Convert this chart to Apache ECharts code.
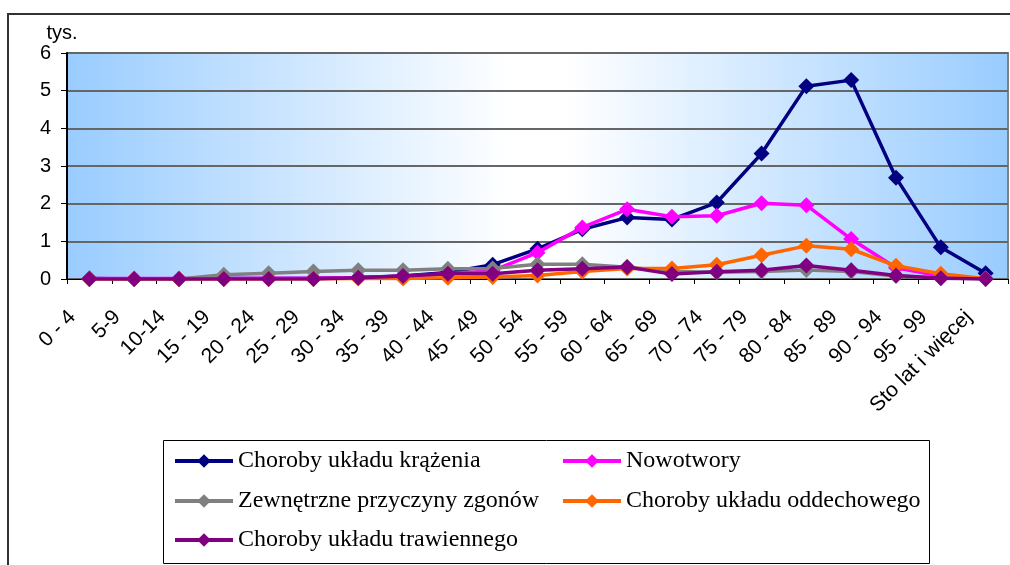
<!DOCTYPE html>
<html><head><meta charset="utf-8">
<script src="https://cdn.jsdelivr.net/npm/echarts@6/dist/echarts.min.js"></script>
<style>html,body{margin:0;padding:0;background:#fff}#c{width:1010px;height:565px}</style>
</head><body><div id="c"></div>
<script>
const categories = ['0 - 4','5-9','10-14','15 - 19','20 - 24','25 - 29','30 - 34','35 - 39','40 - 44','45 - 49','50 - 54','55 - 59','60 - 64','65 - 69','70 - 74','75 - 79','80 - 84','85 - 89','90 - 94','95 - 99','Sto lat i więcej'];
const seriesNames = ['Choroby układu krążenia','Nowotwory','Zewnętrzne przyczyny zgonów','Choroby układu oddechowego','Choroby układu trawiennego'];
const krazenia    = [0.01,0,0,0.01,0.01,0.02,0.04,0.08,0.17,0.38,0.8,1.32,1.63,1.58,2.03,3.33,5.12,5.28,2.69,0.84,0.15];
const nowotwory   = [0.01,0.01,0.01,0.01,0.02,0.02,0.04,0.07,0.14,0.22,0.7,1.37,1.85,1.65,1.68,2.01,1.96,1.06,0.3,0.08,0.01];
const zewnetrzne  = [0,0,0,0.11,0.15,0.2,0.23,0.23,0.27,0.28,0.39,0.39,0.31,0.2,0.18,0.2,0.24,0.2,0.08,0.03,0];
const oddechowego = [0,0,0,0,0,0,0.01,0.01,0.03,0.05,0.09,0.2,0.28,0.28,0.38,0.63,0.88,0.79,0.35,0.14,0.01];
const trawiennego = [0,0,0,0,0,0,0.03,0.08,0.14,0.14,0.23,0.27,0.32,0.13,0.19,0.23,0.36,0.23,0.09,0.02,0];
const yTicks = [0,1,2,3,4,5,6];
const colors = ['#000080','#FF00FF','#808080','#FF6600','#800080'];
const values = [krazenia, nowotwory, zewnetrzne, oddechowego, trawiennego];

const chart = echarts.init(document.getElementById('c'));
const sans = 'Liberation Sans, Arial, sans-serif';
const serif = 'Liberation Serif, Times New Roman, serif';
const legendCommon = {
  orient: 'horizontal', padding: 0, itemWidth: 58, itemHeight: 17, selectedMode: false,
  lineStyle: {width: 4},
  textStyle: {fontFamily: serif, fontSize: 24, color: '#000', lineHeight: 24}
};
chart.setOption({
  animation: false,
  graphic: [
    {type: 'rect', shape: {x: 8, y: 14, width: 1010, height: 600}, style: {fill: 'none', stroke: '#333', lineWidth: 2}, silent: true, z: -10},
    {type: 'rect', shape: {x: 163.5, y: 440.5, width: 766, height: 123}, style: {fill: 'none', stroke: '#000', lineWidth: 1}, silent: true}
  ],
  grid: {
    left: 67, right: 2, top: 53, bottom: 286, show: true,
    backgroundColor: {type: 'linear', x: 0, y: 0, x2: 1, y2: 0, colorStops: [
      {offset: 0, color: '#99CCFF'}, {offset: 0.47, color: '#FFFFFF'}, {offset: 0.53, color: '#FFFFFF'}, {offset: 1, color: '#99CCFF'}
    ]},
    borderColor: '#808080', borderWidth: 2
  },
  legend: [
    Object.assign({data: [seriesNames[0]], left: 173, top: 449}, legendCommon),
    Object.assign({data: [seriesNames[2]], left: 173, top: 489}, legendCommon),
    Object.assign({data: [seriesNames[4]], left: 173, top: 528}, legendCommon),
    Object.assign({data: [seriesNames[1]], left: 561, top: 449}, legendCommon),
    Object.assign({data: [seriesNames[3]], left: 561, top: 489}, legendCommon)
  ],
  xAxis: {
    type: 'category', data: categories, boundaryGap: true,
    axisLine: {show: true, lineStyle: {color: '#000', width: 1}},
    axisTick: {show: true, interval: 0, length: 5, lineStyle: {color: '#000'}},
    axisLabel: {interval: 0, rotate: 45, fontFamily: sans, fontSize: 21, color: '#000', margin: 18, padding: [0, 24, 0, 0]},
    splitLine: {show: false}
  },
  yAxis: {
    type: 'value', min: yTicks[0], max: yTicks[yTicks.length - 1], interval: 1,
    name: 'tys.', nameLocation: 'end', nameGap: 6,
    nameTextStyle: {fontFamily: sans, fontSize: 20, color: '#000', align: 'center', verticalAlign: 'bottom', padding: [0, 10, 0, 0]},
    axisLine: {show: true, lineStyle: {color: '#000', width: 2}},
    axisTick: {show: true, length: 6, lineStyle: {color: '#000'}},
    axisLabel: {fontFamily: sans, fontSize: 20, color: '#000', margin: 16},
    splitLine: {show: true, lineStyle: {color: '#666', width: 2}}
  },
  series: seriesNames.map((n, i) => ({
    name: n, type: 'line', data: values[i],
    symbol: 'diamond', symbolSize: 16,
    lineStyle: {color: colors[i], width: 3.5},
    itemStyle: {color: colors[i]},
    z: 2 + i
  }))
});
</script></body></html>
